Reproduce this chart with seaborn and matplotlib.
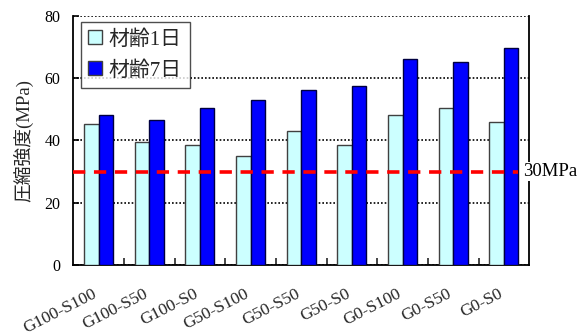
import matplotlib
matplotlib.use("Agg")
import matplotlib.pyplot as plt
import matplotlib.transforms as mtransforms
import seaborn as sns
import pandas as pd

# Mix designs and compressive strength (MPa) at two ages
mixes = ["G100-S100", "G100-S50", "G100-S0", "G50-S100", "G50-S50",
         "G50-S0", "G0-S100", "G0-S50", "G0-S0"]
age_labels = ["材齢1日", "材齢7日"]
strength_1d = [45.3, 39.4, 38.4, 35.0, 42.9, 38.4, 48.3, 50.5, 46.1]
strength_7d = [48.2, 46.5, 50.4, 53.0, 56.2, 57.4, 66.2, 65.1, 69.6]
target_strength = 30
target_label = "30MPa"
y_ticks = [0, 20, 40, 60, 80]

df = pd.DataFrame({
    "mix": mixes * 2,
    "age": [age_labels[0]] * len(mixes) + [age_labels[1]] * len(mixes),
    "strength": strength_1d + strength_7d,
})

sns.set_style("white")
plt.rcParams["font.family"] = ["Liberation Serif", "Noto Sans CJK JP"]

fig = plt.figure(figsize=(5.88, 3.36), dpi=100)
ax = fig.add_axes([0.1245, 0.2113, 0.7755, 0.7411])

sns.barplot(data=df, x="mix", y="strength", hue="age", order=mixes,
            hue_order=age_labels, palette=["#CCFFFF", "#0000FF"],
            width=0.57, gap=0, saturation=1, ax=ax, legend=True)

# edge colours per series
for patch_container, ec in zip(ax.containers, ["#404040", "#000040"]):
    for p in patch_container:
        p.set_edgecolor(ec)
        p.set_linewidth(1.0)
        p.set_zorder(3)

ax.set_ylim(0, 80)
ax.set_xlim(-0.5, len(mixes) - 0.5)
ax.set_yticks(y_ticks)
ax.yaxis.grid(True, color="black", linestyle=(0, (1, 1.2)), linewidth=1.2)
ax.set_axisbelow(True)

for s in ["left", "bottom", "right"]:
    ax.spines[s].set_color("black")
    ax.spines[s].set_linewidth(1.3)
ax.spines["top"].set_visible(False)

ax.tick_params(axis="y", direction="in", length=4, width=1.2, labelsize=11.5,
               colors="black", left=True, pad=9)
ax.tick_params(axis="x", which="major", length=0, labelsize=12.5, pad=15)
ax.set_xticks([i + 0.5 for i in range(len(mixes) - 1)], minor=True)
ax.tick_params(axis="x", which="minor", direction="in", length=5, width=1.2,
               bottom=True)
shift = mtransforms.ScaledTranslation(-6 / 100, 0, fig.dpi_scale_trans)
for lab in ax.get_xticklabels():
    lab.set_rotation(27)
    lab.set_ha("right")
    lab.set_va("top")
    lab.set_rotation_mode("anchor")
    lab.set_transform(lab.get_transform() + shift)

ax.set_xlabel("")
ax.set_ylabel("圧縮強度(MPa)", fontsize=13.5, labelpad=8)

# required strength line
ax.axhline(target_strength, xmin=0, xmax=0.976, color="#FF0000",
           linewidth=2.6, linestyle=(0, (3.4, 2.4)), zorder=4)
ax.text(0.987, target_strength, target_label, transform=ax.get_yaxis_transform(),
        ha="left", va="center", fontsize=13.5, color="black", zorder=5,
        bbox=dict(facecolor="white", edgecolor="none", pad=0.5))

leg = ax.legend(loc="upper left", bbox_to_anchor=(0.016, 0.975), fontsize=15,
                frameon=True, fancybox=False, edgecolor="#222222",
                handlelength=0.67, handleheight=0.67, handletextpad=0.3,
                borderpad=0.38, labelspacing=0.55, borderaxespad=0)
leg.get_frame().set_linewidth(1.0)
for h in leg.legend_handles:
    h.set_edgecolor("#404040")
    h.set_linewidth(1.0)

fig.savefig("out.png", dpi=100)
